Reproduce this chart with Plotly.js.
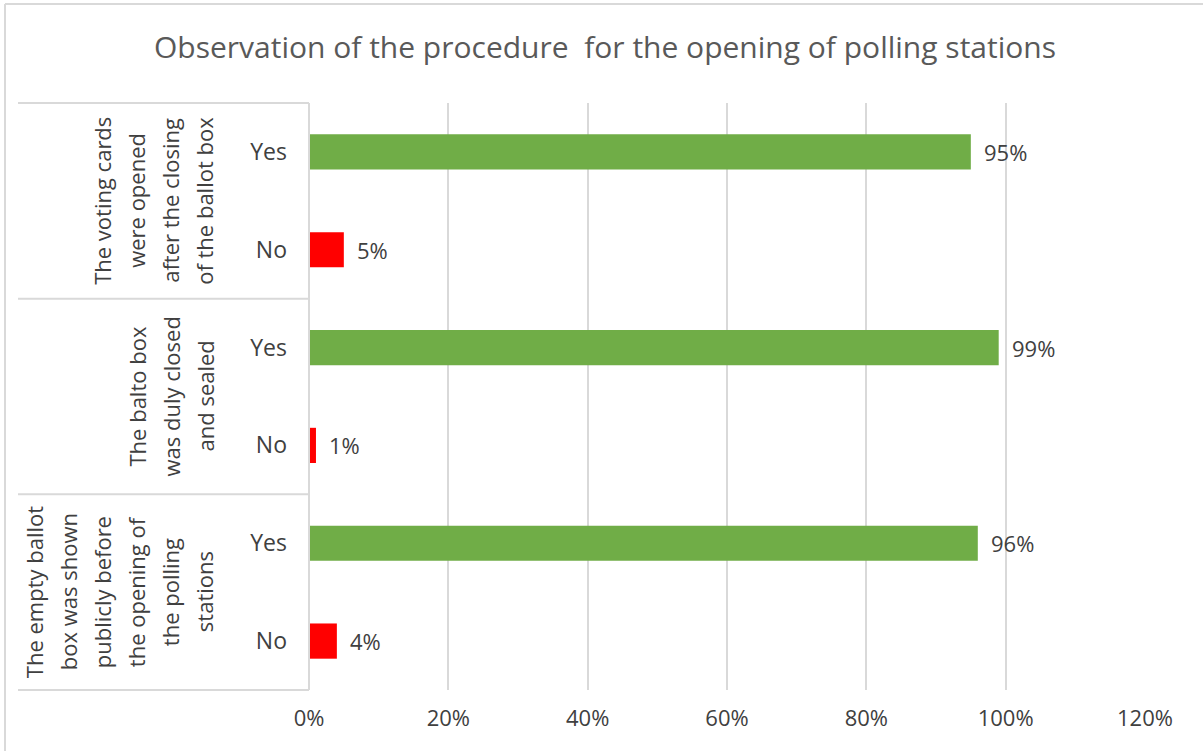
<!DOCTYPE html>
<html>
<head>
<meta charset="utf-8">
<script src="https://cdn.plot.ly/plotly-3.0.1.min.js"></script>
<style>html,body{margin:0;padding:0;background:#fff;}#chart{width:1203px;height:751px;}</style>
</head>
<body>
<div id="chart"></div>
<script>
const chartTitle = "Observation of the procedure  for the opening of polling stations";
const groupLabels = [
  "The voting cards|were opened|after the closing|of the ballot box",
  "The balto box|was duly closed|and sealed",
  "The empty ballot|box was shown|publicly before|the opening of|the polling|stations"
];
const answers = ["Yes", "No"];
const yesValues = [0.95, 0.99, 0.96];
const noValues = [0.05, 0.01, 0.04];
const xTickVals = [0, 0.2, 0.4, 0.6, 0.8, 1.0, 1.2];
const xTickText = ["0%", "20%", "40%", "60%", "80%", "100%", "120%"];

const W = 1203, H = 751;
const mL = 309, mR = 58, mT = 103, mB = 61;
const plotW = W - mL - mR, plotH = H - mT - mB;
const px2x = p => (p - mL) / plotW;
const py2y = p => (H - mB - p) / plotH;

const yesCats = groupLabels.map((g, i) => "g" + i + "-Yes");
const noCats = groupLabels.map((g, i) => "g" + i + "-No");
const allCats = [];
const allText = [];
groupLabels.forEach((g, i) => { allCats.push(yesCats[i], noCats[i]); allText.push(answers[0], answers[1]); });

const textColor = "#404040";
const lineColor = "#d9d9d9";
const fontFam = "'Open Sans', 'Noto Sans', sans-serif";

const traces = [
  {type: "bar", orientation: "h", x: yesValues, y: yesCats, width: 0.36,
   marker: {color: "#70AD47"}, hoverinfo: "x+y"},
  {type: "bar", orientation: "h", x: noValues, y: noCats, width: 0.36,
   marker: {color: "#FF0000"}, hoverinfo: "x+y"}
];

const annotations = [];
// value labels
[[yesValues, yesCats], [noValues, noCats]].forEach(([vals, cats]) => {
  vals.forEach((v, i) => {
    annotations.push({x: v, y: cats[i], xref: "x", yref: "y", text: Math.round(v * 100) + "%",
      showarrow: false, xanchor: "left", xshift: 11, font: {family: fontFam, size: 22, color: textColor}});
  });
});
// group labels (rotated)
const nG = groupLabels.length;
groupLabels.forEach((g, gi) => {
  const lines = g.split("|");
  const n = lines.length;
  const yc = 1 - (gi + 0.5) / nG;
  lines.forEach((ln, li) => {
    const cx = 204 - (n - 1 - li) * 34;
    annotations.push({x: px2x(cx), y: yc, xref: "paper", yref: "paper", text: ln, textangle: -90,
      showarrow: false, xanchor: "center", yanchor: "middle",
      font: {family: fontFam, size: 22, color: textColor}});
  });
});

const shapes = [];
for (let k = 0; k <= nG; k++) {
  shapes.push({type: "line", xref: "paper", yref: "paper", x0: px2x(18), x1: 0, y0: k / nG, y1: k / nG,
    line: {color: lineColor, width: 2}, layer: "below"});
}
shapes.push({type: "line", xref: "paper", yref: "paper", x0: 0, x1: 0, y0: 0, y1: 1, line: {color: lineColor, width: 2}});
// outer border
shapes.push({type: "line", xref: "paper", yref: "paper", x0: px2x(5), x1: px2x(1203), y0: py2y(4), y1: py2y(4), line: {color: lineColor, width: 2}});
shapes.push({type: "line", xref: "paper", yref: "paper", x0: px2x(5), x1: px2x(5), y0: py2y(4), y1: py2y(751), line: {color: lineColor, width: 2}});

const layout = {
  width: W, height: H,
  margin: {l: mL, r: mR, t: mT, b: mB, pad: 0},
  paper_bgcolor: "#fff", plot_bgcolor: "#fff",
  showlegend: false,
  barmode: "overlay",
  title: {text: chartTitle, x: 605 / W, xanchor: "center", y: 1 - 47 / H, yanchor: "middle",
    font: {family: fontFam, size: 30, color: "#595959"}},
  xaxis: {range: [0, 1.2], tickvals: xTickVals, ticktext: xTickText, showgrid: true,
    gridcolor: lineColor, gridwidth: 2, zeroline: false, showline: false, ticks: "",
    ticklabelstandoff: 13, tickfont: {family: fontFam, size: 22, color: textColor}, fixedrange: true},
  yaxis: {type: "category", categoryorder: "array", categoryarray: allCats, tickvals: allCats, ticktext: allText,
    autorange: "reversed", showgrid: false, zeroline: false, showline: false, ticks: "",
    ticklabelstandoff: 21, tickfont: {family: fontFam, size: 23, color: textColor}, fixedrange: true},
  annotations: annotations,
  shapes: shapes
};

Plotly.newPlot("chart", traces, layout, {displayModeBar: false, staticPlot: true});
</script>
</body>
</html>
